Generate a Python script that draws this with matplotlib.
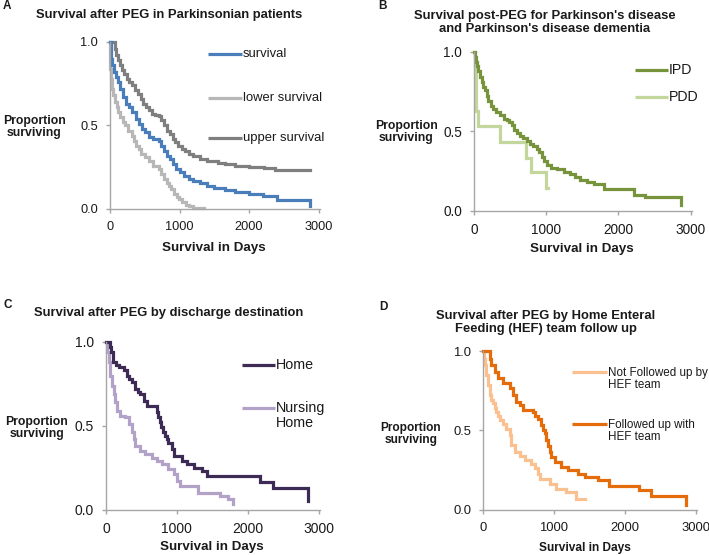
import matplotlib
matplotlib.use("Agg")
import matplotlib.pyplot as plt
from matplotlib.lines import Line2D

plt.rcParams['font.family'] = ['Liberation Sans', 'DejaVu Sans']

# ---------------- data ----------------
# Panel A
a_surv_days = [0, 8, 20, 35, 55, 80, 110, 150, 190, 230, 270, 320, 370, 410, 460, 510, 560, 620, 700, 740,
               780, 820, 860, 900, 950, 1000, 1060, 1130, 1200, 1300, 1400, 1500, 1650, 1800, 2000, 2200, 2400, 2870]
a_surv_vals = [1.0, 0.95, 0.90, 0.86, 0.82, 0.79, 0.76, 0.72, 0.67, 0.63, 0.61, 0.58, 0.54, 0.51, 0.48, 0.46, 0.43,
               0.42, 0.41, 0.38, 0.35, 0.32, 0.30, 0.27, 0.24, 0.22, 0.20, 0.18, 0.17, 0.155, 0.14, 0.125, 0.115,
               0.10, 0.09, 0.075, 0.055, 0.015]
a_upper_days = [0, 70, 90, 110, 140, 170, 200, 240, 280, 320, 360, 400, 440, 480, 520, 560, 600, 650, 700, 740,
                780, 820, 860, 900, 940, 980, 1030, 1080, 1130, 1200, 1300, 1400, 1550, 1650, 1800, 2000, 2220,
                2370, 2870]
a_upper_vals = [1.0, 0.96, 0.92, 0.89, 0.86, 0.83, 0.81, 0.78, 0.76, 0.74, 0.71, 0.69, 0.66, 0.63, 0.61, 0.59, 0.57,
                0.56, 0.555, 0.53, 0.50, 0.47, 0.45, 0.42, 0.40, 0.38, 0.36, 0.345, 0.33, 0.32, 0.30, 0.285, 0.275,
                0.27, 0.26, 0.25, 0.243, 0.236, 0.236]
a_lower_days = [0, 3, 15, 30, 48, 70, 95, 121, 150, 180, 217, 260, 314, 350, 380, 411, 450, 500, 556, 620, 700,
                740, 780, 820, 845, 880, 920, 960, 990, 1040, 1090, 1135, 1200, 1350]
a_lower_vals = [1.0, 0.84, 0.78, 0.72, 0.68, 0.64, 0.61, 0.58, 0.55, 0.52, 0.50, 0.47, 0.44, 0.41, 0.38, 0.36, 0.33,
                0.31, 0.29, 0.26, 0.24, 0.21, 0.18, 0.155, 0.14, 0.12, 0.09, 0.07, 0.06, 0.04, 0.025, 0.018, 0.003,
                0.003]

# Panel B
b_ipd_days = [0, 15, 30, 45, 60, 80, 106, 130, 153, 175, 199, 230, 268, 310, 361, 410, 454, 490, 523, 560, 593,
              640, 685, 730, 778, 820, 870, 905, 940, 975, 1010, 1070, 1148, 1240, 1333, 1400, 1472, 1560, 1657,
              1796, 2213, 2375, 2861]
b_ipd_vals = [1.0, 0.97, 0.94, 0.91, 0.88, 0.84, 0.81, 0.78, 0.76, 0.72, 0.69, 0.66, 0.64, 0.62, 0.60, 0.58, 0.57,
              0.56, 0.54, 0.51, 0.49, 0.47, 0.46, 0.44, 0.42, 0.41, 0.39, 0.37, 0.34, 0.31, 0.29, 0.27, 0.26, 0.24,
              0.23, 0.21, 0.19, 0.18, 0.17, 0.135, 0.10, 0.088, 0.035]
b_pdd_days = [0, 15, 30, 60, 360, 720, 790, 1000, 1020]
b_pdd_vals = [1.0, 0.92, 0.63, 0.53, 0.43, 0.33, 0.24, 0.145, 0.145]

# Panel C
c_home_days = [0, 50, 75, 100, 140, 178, 249, 296, 330, 366, 413, 450, 484, 531, 577, 718, 740, 760, 780, 800,
               830, 860, 882, 930, 953, 1070, 1141, 1235, 1352, 1422, 2169, 2350, 2850]
c_home_vals = [1.0, 0.97, 0.94, 0.88, 0.86, 0.85, 0.83, 0.80, 0.78, 0.76, 0.72, 0.70, 0.69, 0.65, 0.62, 0.58,
               0.55, 0.52, 0.49, 0.46, 0.44, 0.42, 0.40, 0.36, 0.32, 0.29, 0.27, 0.25, 0.23, 0.20, 0.165, 0.126,
               0.05]
c_nursing_days = [0, 15, 37, 61, 85, 108, 131, 155, 202, 272, 319, 366, 390, 413, 484, 554, 648, 718, 789, 882,
                  953, 1000, 1047, 1305, 1610, 1728, 1798]
c_nursing_vals = [1.0, 0.94, 0.88, 0.80, 0.74, 0.69, 0.64, 0.59, 0.56, 0.55, 0.51, 0.46, 0.42, 0.38, 0.35, 0.33,
                  0.31, 0.29, 0.27, 0.24, 0.21, 0.17, 0.14, 0.10, 0.08, 0.06, 0.03]

# Panel D
d_follow_days = [0, 94, 118, 165, 212, 282, 377, 424, 471, 518, 565, 706, 740, 777, 824, 850, 871, 895, 918, 940,
                 965, 1012, 1106, 1200, 1342, 1436, 1624, 1780, 2200, 2370, 2860]
d_follow_vals = [1.0, 0.95, 0.91, 0.87, 0.83, 0.795, 0.765, 0.72, 0.68, 0.66, 0.63, 0.615, 0.59, 0.57, 0.53, 0.50,
                 0.48, 0.44, 0.40, 0.36, 0.33, 0.30, 0.27, 0.25, 0.225, 0.205, 0.185, 0.15, 0.12, 0.085, 0.03]
d_notfollow_days = [0, 12, 24, 47, 71, 94, 118, 141, 165, 188, 212, 235, 282, 329, 377, 400, 447, 518, 589, 682,
                    730, 777, 800, 942, 1036, 1177, 1318, 1436]
d_notfollow_vals = [1.0, 0.95, 0.91, 0.85, 0.785, 0.72, 0.69, 0.67, 0.64, 0.615, 0.59, 0.565, 0.54, 0.51, 0.47,
                    0.405, 0.36, 0.34, 0.31, 0.29, 0.26, 0.225, 0.195, 0.163, 0.131, 0.11, 0.068, 0.068]

x_ticks = [0, 1000, 2000, 3000]
y_ticks = [0.0, 0.5, 1.0]
y_tick_labels = ['0.0', '0.5', '1.0']

# ---------------- figure ----------------
W, H = 709, 555
fig = plt.figure(figsize=(W / 100, H / 100), dpi=100)
fig.patch.set_facecolor('white')

AX_COLOR = '#a6a6a6'
TXT = '#1a1a1a'
LW = 2.3
TITLE_FS = 9.35


def px_axes(left, top, right, bottom):
    return fig.add_axes([left / W, 1 - bottom / H, (right - left) / W, (bottom - top) / H])


def style(ax, tick_fs):
    for s in ['top', 'right']:
        ax.spines[s].set_visible(False)
    for s in ['left', 'bottom']:
        ax.spines[s].set_color(AX_COLOR)
        ax.spines[s].set_linewidth(1.0)
    ax.set_xlim(0, 3020)
    ax.set_ylim(0, 1.0)
    ax.set_xticks(x_ticks)
    ax.set_yticks(y_ticks)
    ax.set_yticklabels(y_tick_labels)
    ax.tick_params(direction='out', length=3, width=1.0, color=AX_COLOR, labelsize=tick_fs,
                   labelcolor=TXT)
    ax.tick_params(axis='y', pad=5.5)
    ax.tick_params(axis='x', pad=6)
    ax.set_facecolor('none')


def ftext(x, y, s, **kw):
    fig.text(x / W, 1 - y / H, s, **kw)


def legend_item(x0, x1, y, color, label, fs, ty=None):
    fig.add_artist(Line2D([x0 / W, x1 / W], [1 - y / H, 1 - y / H], color=color, lw=LW,
                          solid_capstyle='butt'))
    ftext(x1 + 1, y if ty is None else ty, label, ha='left', va='center', fontsize=fs, color=TXT,
          linespacing=1.05)


def step(ax, d, v, color):
    ax.step(d, v, where='post', color=color, lw=LW, clip_on=False, solid_joinstyle='miter')


def labels(ylx, yly, xlx, xly, xfs=9.6, yfs=8.8):
    ftext(ylx, yly, 'Proportion\nsurviving', ha='center', va='center', fontsize=yfs,
          fontweight='bold', color=TXT, linespacing=1.1)
    ftext(xlx, xly, 'Survival in Days', ha='center', va='center', fontsize=xfs,
          fontweight='bold', color=TXT)


# Panel A
axA = px_axes(110, 42, 320, 209)
style(axA, 9.2)
step(axA, a_upper_days, a_upper_vals, '#7f7f7f')
step(axA, a_lower_days, a_lower_vals, '#b7b7b7')
step(axA, a_surv_days, a_surv_vals, '#4a7ebb')
ftext(3, 6, 'A', fontsize=8.5, fontweight='bold', ha='left', va='center', color=TXT)
ftext(169, 15, 'Survival after PEG in Parkinsonian patients', fontsize=TITLE_FS, fontweight='bold',
      ha='center', va='center', color=TXT)
labels(34, 127, 214, 248)
legend_item(208, 242, 54, '#4a7ebb', 'survival', 9.4)
legend_item(208, 242, 98, '#b7b7b7', 'lower survival', 9.4)
legend_item(208, 242, 138, '#7f7f7f', 'upper survival', 9.4)

# Panel B
axB = px_axes(474, 52, 692, 210.5)
style(axB, 9.8)
step(axB, b_pdd_days, b_pdd_vals, '#c3d69b')
step(axB, b_ipd_days, b_ipd_vals, '#77933c')
ftext(378, 6, 'B', fontsize=8.5, fontweight='bold', ha='left', va='center', color=TXT)
ftext(545, 22.5, "Survival post-PEG for Parkinson's disease\nand Parkinson's disease dementia",
      fontsize=TITLE_FS, fontweight='bold', ha='center', va='center', color=TXT, linespacing=1.2)
labels(406, 132, 582, 249)
legend_item(635, 668, 70, '#77933c', 'IPD', 10.2)
legend_item(635, 668, 97, '#c3d69b', 'PDD', 10.2)

# Panel C
axC = px_axes(106, 342, 320, 509.5)
style(axC, 10.0)
step(axC, c_nursing_days, c_nursing_vals, '#b3a2c7')
step(axC, c_home_days, c_home_vals, '#3d2b56')
ftext(3, 305, 'C', fontsize=8.5, fontweight='bold', ha='left', va='center', color=TXT)
ftext(169, 313, 'Survival after PEG by discharge destination', fontsize=TITLE_FS, fontweight='bold',
      ha='center', va='center', color=TXT)
labels(37, 428, 212, 547)
legend_item(242, 275, 365, '#3d2b56', 'Home', 10.3)
legend_item(242, 275, 408, '#b3a2c7', 'Nursing\nHome', 10.3, ty=415.5)

# Panel D
axD = px_axes(483, 351, 697, 509.5)
style(axD, 9.4)
step(axD, d_notfollow_days, d_notfollow_vals, '#fac090')
step(axD, d_follow_days, d_follow_vals, '#e46c0a')
ftext(379, 307, 'D', fontsize=8.5, fontweight='bold', ha='left', va='center', color=TXT)
ftext(546, 322.5, 'Survival after PEG by Home Enteral\nFeeding (HEF) team follow up', fontsize=TITLE_FS,
      fontweight='bold', ha='center', va='center', color=TXT, linespacing=1.2)
labels(411, 434, 585, 548, xfs=8.6, yfs=8.6)
legend_item(572, 607, 372, '#fac090', 'Not Followed up by\nHEF team', 8.4, ty=379)
legend_item(572, 607, 424, '#e46c0a', 'Followed up with\nHEF team', 8.4, ty=431)

fig.savefig('out.png', dpi=100)
